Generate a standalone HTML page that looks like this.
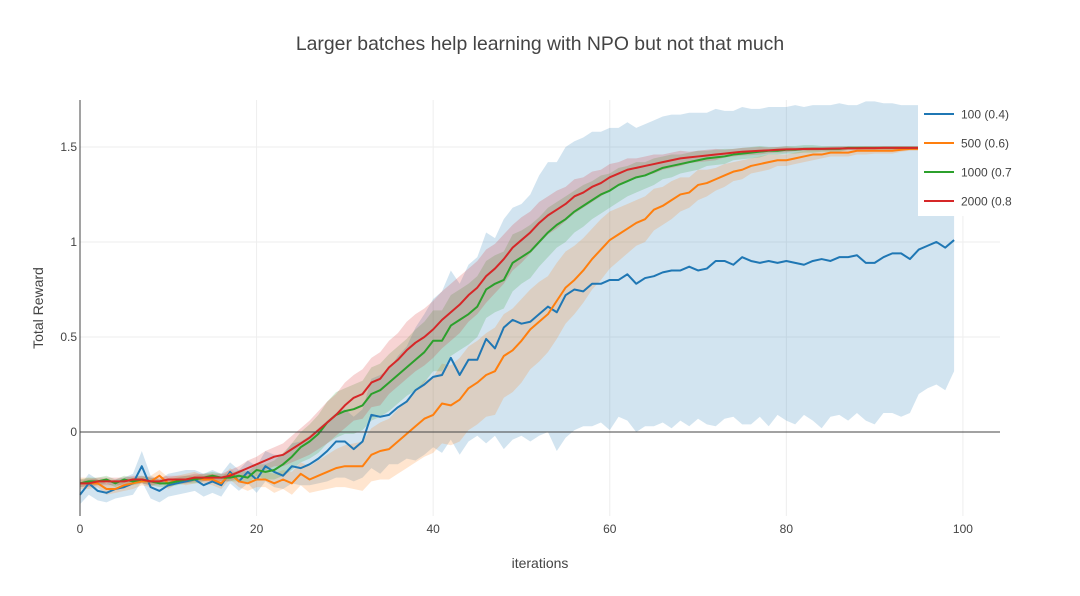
<!DOCTYPE html>
<html><head><meta charset="utf-8"><style>
body{margin:0;background:#fff;}
svg{font-family:"Liberation Sans",sans-serif;display:block}
</style></head><body>
<svg id="chart" width="1080" height="596" viewBox="0 0 1080 596">
<rect width="1080" height="596" fill="#fff"/>
<text x="540" y="50" text-anchor="middle" font-size="19.4" fill="#444">Larger batches help learning with NPO but not that much</text>
<g id="grid"></g>
<g id="bands"></g>
<g id="lines"></g>
<g id="axes"></g>
<g id="legend"></g>
<text x="540" y="568" text-anchor="middle" font-size="14" fill="#444">iterations</text>
<text x="43" y="308" text-anchor="middle" font-size="14" fill="#444" transform="rotate(-90 43 308)">Total Reward</text>
</svg>
<script>
const seriesNames=["100 (0.4)","500 (0.6)","1000 (0.7","2000 (0.8"];
const xTicks=[0,20,40,60,80,100];
const yTicks=[0,0.5,1,1.5];
const yTickLabels=["0","0.5","1","1.5"];
const blueMean=[-0.33,-0.27,-0.31,-0.32,-0.30,-0.29,-0.27,-0.18,-0.29,-0.31,-0.28,-0.27,-0.26,-0.25,-0.28,-0.26,-0.28,-0.21,-0.26,-0.21,
-0.25,-0.18,-0.21,-0.23,-0.18,-0.19,-0.17,-0.14,-0.10,-0.05,-0.05,-0.09,-0.05,0.09,0.08,0.09,0.13,0.16,0.22,0.25,
0.29,0.30,0.39,0.30,0.38,0.38,0.49,0.44,0.55,0.59,0.57,0.58,0.62,0.66,0.63,0.72,0.75,0.74,0.78,0.78,
0.80,0.80,0.83,0.78,0.81,0.82,0.84,0.85,0.85,0.87,0.85,0.86,0.90,0.90,0.88,0.92,0.90,0.89,0.90,0.89,
0.90,0.89,0.88,0.90,0.91,0.90,0.92,0.92,0.93,0.89,0.89,0.92,0.94,0.94,0.91,0.96,0.98,1.00,0.97,1.01];
const blueUpper=[-0.28,-0.22,-0.25,-0.27,-0.25,-0.24,-0.22,-0.1,-0.23,-0.25,-0.22,-0.21,-0.2,-0.2,-0.22,-0.2,-0.22,-0.16,-0.2,-0.15,
-0.18,-0.1,-0.12,-0.12,-0.06,-0.05,-0.02,0.02,0.06,0.1,0.12,0.08,0.12,0.28,0.3,0.33,0.4,0.45,0.55,0.62,
0.7,0.74,0.85,0.78,0.88,0.92,1.05,1.02,1.12,1.18,1.2,1.25,1.35,1.42,1.42,1.5,1.53,1.55,1.58,1.58,
1.6,1.6,1.63,1.6,1.62,1.64,1.66,1.67,1.67,1.68,1.68,1.68,1.7,1.69,1.69,1.71,1.7,1.7,1.71,1.71,
1.71,1.72,1.71,1.72,1.72,1.72,1.73,1.72,1.72,1.74,1.74,1.73,1.73,1.72,1.72,1.72,1.73,1.74,1.73,1.72];
const blueLower=[-0.38,-0.33,-0.36,-0.37,-0.35,-0.34,-0.33,-0.26,-0.35,-0.37,-0.34,-0.33,-0.32,-0.31,-0.34,-0.32,-0.34,-0.27,-0.31,-0.27,
-0.32,-0.26,-0.29,-0.3,-0.27,-0.28,-0.28,-0.27,-0.26,-0.24,-0.24,-0.26,-0.24,-0.19,-0.22,-0.17,-0.17,-0.14,-0.15,-0.12,
-0.08,-0.11,-0.04,-0.12,-0.05,-0.02,-0.06,-0.02,-0.09,-0.04,-0.02,-0.05,-0.02,0.0,-0.1,-0.03,0.01,0.03,0.03,0.05,
0.01,0.08,0.06,0.0,0.03,0.03,0.05,0.02,0.06,0.03,0.07,0.04,0.03,0.07,0.08,0.04,0.04,0.08,0.03,0.09,
0.06,0.04,0.09,0.06,0.02,0.08,0.09,0.06,0.1,0.06,0.04,0.1,0.1,0.08,0.1,0.2,0.23,0.25,0.22,0.32];
const orangeMean=[-0.27,-0.27,-0.27,-0.30,-0.30,-0.28,-0.27,-0.26,-0.26,-0.23,-0.27,-0.25,-0.25,-0.24,-0.25,-0.25,-0.27,-0.22,-0.26,-0.27,
-0.25,-0.25,-0.27,-0.25,-0.27,-0.22,-0.25,-0.23,-0.21,-0.19,-0.18,-0.18,-0.18,-0.12,-0.10,-0.09,-0.05,-0.01,0.03,0.07,
0.09,0.15,0.14,0.17,0.23,0.26,0.30,0.32,0.40,0.43,0.48,0.54,0.58,0.62,0.69,0.76,0.80,0.85,0.91,0.96,
1.01,1.04,1.07,1.10,1.12,1.17,1.19,1.22,1.25,1.26,1.30,1.31,1.33,1.35,1.37,1.38,1.40,1.41,1.42,1.43,
1.43,1.44,1.45,1.46,1.46,1.47,1.47,1.47,1.48,1.48,1.48,1.48,1.48,1.485,1.49,1.49,1.49,1.49,1.49,1.49];
const orangeStd=[0.03,0.03,0.02,0.03,0.02,0.03,0.03,0.02,0.03,0.03,0.03,0.02,0.03,0.03,0.02,0.03,0.03,0.03,0.03,0.04,
0.04,0.04,0.05,0.05,0.06,0.06,0.07,0.08,0.09,0.1,0.11,0.12,0.13,0.14,0.15,0.16,0.17,0.18,0.19,0.2,
0.2,0.21,0.21,0.22,0.22,0.22,0.22,0.23,0.22,0.22,0.22,0.21,0.21,0.2,0.2,0.19,0.18,0.17,0.16,0.16,
0.15,0.14,0.13,0.12,0.12,0.11,0.1,0.1,0.09,0.08,0.08,0.07,0.06,0.06,0.05,0.05,0.04,0.04,0.04,0.03,
0.03,0.03,0.03,0.03,0.02,0.02,0.02,0.02,0.02,0.02,0.015,0.015,0.015,0.01,0.01,0.01,0.01,0.01,0.01,0.01];
const greenMean=[-0.27,-0.26,-0.26,-0.25,-0.27,-0.25,-0.26,-0.25,-0.26,-0.27,-0.27,-0.26,-0.25,-0.25,-0.24,-0.23,-0.24,-0.24,-0.23,-0.24,
-0.2,-0.21,-0.2,-0.17,-0.13,-0.08,-0.05,-0.01,0.05,0.09,0.11,0.12,0.14,0.2,0.22,0.26,0.3,0.34,0.38,0.42,
0.48,0.48,0.56,0.59,0.62,0.66,0.75,0.78,0.8,0.89,0.92,0.95,1.0,1.05,1.09,1.12,1.16,1.19,1.22,1.25,
1.27,1.3,1.32,1.34,1.35,1.37,1.39,1.4,1.41,1.42,1.43,1.44,1.445,1.45,1.46,1.465,1.47,1.475,1.48,1.48,
1.485,1.485,1.49,1.49,1.49,1.49,1.49,1.495,1.495,1.495,1.495,1.495,1.495,1.495,1.495,1.495,1.495,1.495,1.495,1.495];
const greenStd=[0.02,0.02,0.02,0.02,0.02,0.02,0.02,0.02,0.02,0.02,0.02,0.02,0.02,0.02,0.02,0.02,0.02,0.02,0.03,0.03,
0.03,0.04,0.05,0.06,0.07,0.08,0.09,0.1,0.11,0.12,0.12,0.13,0.13,0.14,0.14,0.15,0.15,0.15,0.16,0.16,
0.16,0.16,0.16,0.16,0.16,0.16,0.15,0.15,0.15,0.15,0.14,0.14,0.13,0.13,0.12,0.12,0.11,0.11,0.1,0.1,
0.09,0.09,0.08,0.08,0.07,0.07,0.06,0.06,0.05,0.05,0.05,0.04,0.04,0.04,0.03,0.03,0.03,0.03,0.02,0.02,
0.02,0.02,0.02,0.02,0.015,0.015,0.015,0.01,0.01,0.01,0.01,0.01,0.01,0.01,0.01,0.01,0.01,0.01,0.01,0.01];
const redMean=[-0.27,-0.27,-0.26,-0.26,-0.26,-0.26,-0.25,-0.25,-0.26,-0.26,-0.25,-0.25,-0.25,-0.24,-0.24,-0.24,-0.24,-0.23,-0.21,-0.19,
-0.17,-0.15,-0.13,-0.12,-0.09,-0.06,-0.03,0.01,0.05,0.09,0.14,0.18,0.2,0.26,0.28,0.34,0.38,0.43,0.47,0.5,
0.54,0.59,0.63,0.67,0.72,0.76,0.82,0.86,0.91,0.97,1.01,1.05,1.1,1.14,1.17,1.2,1.24,1.26,1.29,1.31,
1.34,1.36,1.38,1.39,1.4,1.41,1.42,1.43,1.44,1.445,1.45,1.455,1.46,1.465,1.47,1.475,1.477,1.48,1.482,1.485,
1.487,1.488,1.489,1.49,1.49,1.491,1.492,1.493,1.493,1.494,1.494,1.495,1.495,1.495,1.495,1.495,1.495,1.495,1.495,1.495];
const redStd=[0.02,0.02,0.02,0.02,0.02,0.02,0.02,0.02,0.02,0.02,0.02,0.02,0.02,0.02,0.02,0.02,0.02,0.03,0.03,0.04,
0.04,0.05,0.05,0.06,0.07,0.08,0.09,0.1,0.11,0.11,0.12,0.12,0.13,0.13,0.14,0.14,0.14,0.15,0.15,0.15,
0.15,0.15,0.15,0.15,0.14,0.14,0.14,0.13,0.13,0.12,0.12,0.11,0.11,0.1,0.1,0.09,0.09,0.08,0.08,0.07,
0.07,0.06,0.06,0.05,0.05,0.05,0.04,0.04,0.04,0.03,0.03,0.03,0.03,0.02,0.02,0.02,0.02,0.02,0.015,0.015,
0.015,0.01,0.01,0.01,0.01,0.01,0.01,0.01,0.01,0.01,0.01,0.01,0.01,0.01,0.01,0.01,0.01,0.01,0.01,0.01];

const NS="http://www.w3.org/2000/svg";
const L=80,R=1000,T=100,B=516;
const xMin=0,xMax=104.2,yMin=-0.442,yMax=1.747;
const xs=v=>L+(v-xMin)/(xMax-xMin)*(R-L);
const ys=v=>B-(v-yMin)/(yMax-yMin)*(B-T);
function mk(tag,attrs,parent){const e=document.createElementNS(NS,tag);for(const k in attrs)e.setAttribute(k,attrs[k]);parent.appendChild(e);return e;}
const grid=document.getElementById('grid'),axes=document.getElementById('axes');
xTicks.forEach(t=>{
  const l=mk('line',{x1:xs(t),x2:xs(t),y1:T,y2:B,stroke:'#eee','stroke-width':1},grid);
  
  
  const tx=mk('text',{x:xs(t),y:B+17,'text-anchor':'middle','font-size':12,fill:'#444'},axes);
  tx.textContent=t;
  
  
});
yTicks.forEach((t,i)=>{
  if(t!==0){const l=mk('line',{x1:L,x2:R,y1:ys(t),y2:ys(t),stroke:'#eee','stroke-width':1},grid);
  
  }
  const tx=mk('text',{x:L-3,y:ys(t)+4,'text-anchor':'end','font-size':12,fill:'#444'},axes);
  tx.textContent=yTickLabels[i];
  
  
});
const zl=mk('line',{x1:L,x2:R,y1:ys(0),y2:ys(0),stroke:'#444','stroke-width':1},axes);


const ya=mk('line',{x1:L,x2:L,y1:T,y2:B,stroke:'#444','stroke-width':1},axes);



const colors=['#1f77b4','#ff7f0e','#2ca02c','#d62728'];
const means=[blueMean,orangeMean,greenMean,redMean];
const uppers=[blueUpper,orangeMean.map((m,i)=>m+orangeStd[i]),greenMean.map((m,i)=>m+greenStd[i]),redMean.map((m,i)=>m+redStd[i])];
const lowers=[blueLower,orangeMean.map((m,i)=>m-orangeStd[i]),greenMean.map((m,i)=>m-greenStd[i]),redMean.map((m,i)=>m-redStd[i])];
const bands=document.getElementById('bands'),lines=document.getElementById('lines');
const bandNames=['band-100','band-500','band-1000','band-2000'];
const lineNames=['line-100','line-500','line-1000','line-2000'];
means.forEach((m,s)=>{
  let d='';
  uppers[s].forEach((v,i)=>{d+=(i?'L':'M')+xs(i)+','+ys(v);});
  for(let i=lowers[s].length-1;i>=0;i--)d+='L'+xs(i)+','+ys(lowers[s][i]);
  const p=mk('path',{d:d+'Z',fill:colors[s],'fill-opacity':0.2,stroke:'none'},bands);
  
  
});
means.forEach((m,s)=>{
  const pts=m.map((v,i)=>xs(i)+','+ys(v)).join(' ');
  const p=mk('polyline',{points:pts,fill:'none',stroke:colors[s],'stroke-width':2,'stroke-linejoin':'round'},lines);
  
  
});
const lg=document.getElementById('legend');
const bg=mk('rect',{x:918,y:100,width:162,height:116,fill:'#fff'},lg);


const legendNames=['legend-entry-100','legend-entry-500','legend-entry-1000','legend-entry-2000'];
seriesNames.forEach((n,i)=>{
  const y=114+i*29;
  const g=mk('g',{},lg);
  
  
  mk('line',{x1:924,x2:954,y1:y,y2:y,stroke:colors[i],'stroke-width':2},g);
  const t=mk('text',{x:961,y:y+4.5,'font-size':12,fill:'#444'},g);
  t.textContent=n;
});
</script>
</body></html>
